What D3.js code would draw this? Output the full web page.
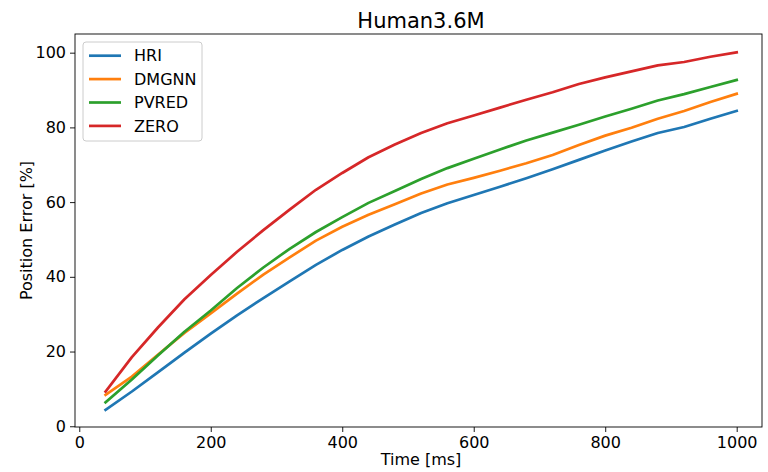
<!DOCTYPE html>
<html>
<head>
<meta charset="utf-8">
<script src="https://cdn.jsdelivr.net/npm/d3@7"></script>
<style>
  body { margin: 0; background: #fff; }
  text { font-family: "DejaVu Sans", sans-serif; fill: #000; }
</style>
</head>
<body>
<svg id="chart" width="768" height="472"></svg>
<script>
// time steps (ms)
let times = [40, 80, 120, 160, 200, 240, 280, 320, 360, 400, 440, 480, 520,
             560, 600, 640, 680, 720, 760, 800, 840, 880, 920, 960, 1000];

// series values
let hri   = [4.4, 9.3, 14.5, 19.7, 24.8, 29.7, 34.3, 38.8, 43.2, 47.2, 50.8, 54.0, 57.1,
             59.7, 61.9, 64.1, 66.4, 68.8, 71.3, 73.8, 76.2, 78.5, 80.1, 82.3, 84.4];
let dmgnn = [8.4, 13.3, 19.2, 25.0, 30.2, 35.5, 40.6, 45.2, 49.7, 53.4, 56.6, 59.4, 62.3,
             64.7, 66.5, 68.4, 70.4, 72.6, 75.3, 77.8, 79.9, 82.3, 84.4, 86.8, 89.0];
let pvred = [6.4, 12.5, 19.0, 25.3, 31.0, 37.0, 42.5, 47.5, 52.0, 56.0, 59.8, 63.0, 66.2,
             69.1, 71.6, 74.1, 76.5, 78.6, 80.7, 82.9, 85.0, 87.2, 88.9, 90.8, 92.7];
let zero  = [9.3, 18.5, 26.5, 34.0, 40.5, 46.7, 52.5, 58.0, 63.3, 67.8, 72.0, 75.4, 78.5,
             81.1, 83.2, 85.3, 87.4, 89.4, 91.6, 93.4, 95.0, 96.6, 97.5, 98.9, 100.1];

let seriesNames = ["HRI", "DMGNN", "PVRED", "ZERO"];
let seriesColors = ["#1f77b4", "#ff7f0e", "#2ca02c", "#d62728"];
let xTicks = [0, 200, 400, 600, 800, 1000];
let yTicks = [0, 20, 40, 60, 80, 100];

let series = [hri, dmgnn, pvred, zero].map((vals, i) => ({
    name: seriesNames[i],
    color: seriesColors[i],
    points: vals.map((v, j) => ({ t: times[j], v: v }))
}));

// plot area
let plotLeft = 75, plotRight = 762, plotTop = 34, plotBottom = 427;

let svg = d3.select("#chart");

let x = d3.scaleLinear().domain([-6.5, 1038.5]).range([plotLeft, plotRight]);
let y = d3.scaleLinear().domain([-0.2, 105]).range([plotBottom, plotTop]);

// axes
let xAxis = svg.append("g")
    .attr("transform", `translate(0,${plotBottom})`)
    .call(d3.axisBottom(x).tickValues(xTicks).tickFormat(d3.format("d"))
        .tickSize(5).tickPadding(4));

let yAxis = svg.append("g")
    .attr("transform", `translate(${plotLeft},0)`)
    .call(d3.axisLeft(y).tickValues(yTicks).tickFormat(d3.format("d"))
        .tickSize(5).tickPadding(4));

[xAxis, yAxis].forEach(g => {
    g.select(".domain").remove();
    g.selectAll("line").attr("stroke", "#000").attr("stroke-width", 0.9);
    g.selectAll("text").attr("font-size", "16px").attr("fill", "#000")
        .style("font-family", "'DejaVu Sans', sans-serif");
});
xAxis.selectAll("text").attr("dy", "0.78em");

// frame
svg.append("rect")
    .attr("x", plotLeft).attr("y", plotTop)
    .attr("width", plotRight - plotLeft).attr("height", plotBottom - plotTop)
    .attr("fill", "none").attr("stroke", "#000").attr("stroke-width", 0.9);

// lines
let line = d3.line().x(d => x(d.t)).y(d => y(d.v));

svg.append("g").selectAll("path")
    .data(series)
    .enter()
    .append("path")
    .attr("d", d => line(d.points))
    .attr("fill", "none")
    .attr("stroke", d => d.color)
    .attr("stroke-width", 2.7)
    .attr("stroke-linejoin", "round")
    .attr("stroke-linecap", "square");

// title and labels
svg.append("text")
    .attr("x", 421).attr("y", 28)
    .attr("text-anchor", "middle")
    .attr("font-size", "21px")
    .text("Human3.6M");

svg.append("text")
    .attr("x", 421).attr("y", 465)
    .attr("text-anchor", "middle")
    .attr("font-size", "16px")
    .text("Time [ms]");

svg.append("text")
    .attr("transform", `translate(32,${(plotTop + plotBottom) / 2}) rotate(-90)`)
    .attr("text-anchor", "middle")
    .attr("font-size", "16px")
    .text("Position Error [%]");

// legend
let legend = svg.append("g");
legend.append("rect")
    .attr("x", 83).attr("y", 42)
    .attr("width", 119).attr("height", 99)
    .attr("rx", 3)
    .attr("fill", "#fff").attr("fill-opacity", 0.8)
    .attr("stroke", "#ccc").attr("stroke-width", 1);

let item = legend.selectAll("g.item")
    .data(series)
    .enter()
    .append("g")
    .attr("class", "item")
    .attr("transform", (d, i) => `translate(0,${55.7 + i * 23.4})`);

item.append("line")
    .attr("x1", 89).attr("x2", 121)
    .attr("stroke", d => d.color)
    .attr("stroke-width", 2.7);

item.append("text")
    .attr("x", 134).attr("dy", "0.36em")
    .attr("font-size", "16px")
    .text(d => d.name);
</script>
</body>
</html>
